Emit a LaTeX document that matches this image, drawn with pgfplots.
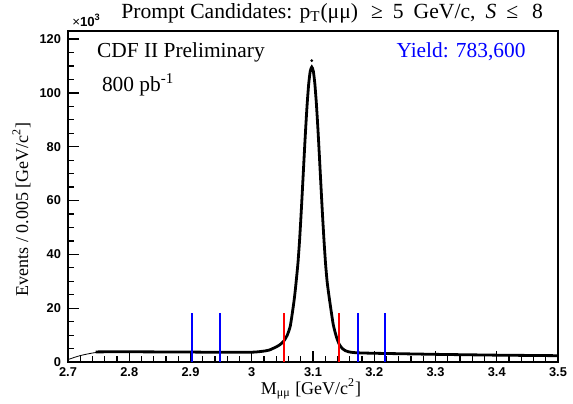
\documentclass[border=0pt]{standalone}
\usepackage{fontspec}
\usepackage{pgfplots}
\pgfplotsset{compat=1.18}
\setmainfont{Liberation Serif}
\newfontfamily\helv{Liberation Sans}

\begin{document}
\begin{tikzpicture}
\begin{axis}[
  scale only axis,
  width=245pt, height=165.5pt,
  xmin=2.7, xmax=3.5, ymin=0, ymax=123,
  clip=false,
  axis line style={line width=0.8pt},
  xtick={2.7,2.8,2.9,3.0,3.1,3.2,3.3,3.4,3.5},
  ytick={0,20,40,60,80,100,120},
  minor x tick num=4, minor y tick num=3,
  tick align=inside, tick pos=left,
  major tick length=5.5pt, minor tick length=3pt,
  tick style={black, line width=0.6pt},
  ticklabel style={font=\helv\bfseries\fontsize{6.4}{7}\selectfont},
  xticklabel style={yshift=1pt},
  /pgf/number format/assume math mode=true,
  scaled ticks=false,
]
% thin extension at the low edge
\addplot[black, line width=0.4pt] coordinates {
  (2.70,0.9) (2.71,1.7) (2.72,2.4) (2.73,2.9) (2.74,3.35) (2.75,3.7)
};
% fitted mass spectrum
\addplot[black, line width=1.4pt, smooth, tension=0.4] coordinates {
  (2.745,3.75) (2.77,3.8) (2.80,3.8) (2.85,3.75) (2.90,3.7) (2.95,3.6)
  (2.98,3.6) (3.00,3.65) (3.008,3.75) (3.018,4.0) (3.028,4.4) (3.038,5.4)
  (3.043,6.0) (3.048,6.8) (3.053,8.0) (3.058,10.0) (3.063,13.5) (3.068,21)
  (3.0705,25.5) (3.073,31) (3.0755,37) (3.078,45) (3.0805,54.7) (3.083,65.3)
  (3.0855,76.2) (3.088,86.7) (3.0905,96.0) (3.093,103.4) (3.0955,108.1)
  (3.098,109.6) (3.1005,108.1) (3.103,103.4) (3.1055,96.0) (3.108,86.7)
  (3.1105,76.2) (3.113,65.3) (3.1155,54.7) (3.118,45.0) (3.1205,36.5)
  (3.123,30) (3.1255,25.5) (3.128,21.5) (3.133,14) (3.138,9.5) (3.143,6.5)
  (3.148,5.0) (3.153,4.2) (3.158,3.8) (3.165,3.55) (3.175,3.4) (3.20,3.25)
  (3.25,3.05) (3.30,2.85) (3.35,2.7) (3.40,2.55) (3.45,2.45) (3.50,2.35)
};
\addplot[only marks, mark=*, mark size=0.5pt, black] coordinates {(3.098,112)};
% signal window and sidebands
\addplot[ycomb, red, line width=0.9pt, no marks] coordinates {(3.053,18.2) (3.143,18.2)};
\addplot[ycomb, blue, line width=0.9pt, no marks] coordinates {(2.903,18.2) (2.948,18.2) (3.173,18.2) (3.218,18.2)};

\node[anchor=base west, font=\fontsize{10.7}{12}\selectfont] at (rel axis cs:0.045,0.921) {CDF II Preliminary};
\node[anchor=base west, font=\fontsize{10.7}{12}\selectfont] at (rel axis cs:0.055,0.817) {800 pb\textsuperscript{-1}};
\node[anchor=base west, font=\fontsize{10.7}{12}\selectfont, text=blue] at (rel axis cs:0.656,0.921) {Yield: 783,600};
\node[anchor=base west, inner sep=0pt, font=\fontsize{10.8}{12}\selectfont] at (rel axis cs:0.108,1.038)
  {Prompt Candidates: p\textsubscript{T}(μμ)\hspace{6.5pt}≥\hspace{5pt}5\hspace{5pt}GeV/c,\hspace{5pt}\textit{S}\hspace{5pt}≤\hspace{7pt}8};
\node[anchor=base west, inner sep=0pt, font=\helv\fontsize{6.6}{7}\selectfont] at (rel axis cs:0.008,1.013) {×\textbf{10\textsuperscript{3}}};
\node[anchor=base, rotate=90, inner sep=0pt, font=\fontsize{9}{10}\selectfont] at (rel axis cs:-0.0816,0.462) {Events / 0.005 [GeV/c\textsuperscript{2}]};
\node[anchor=base, inner sep=0pt, font=\fontsize{9}{10}\selectfont] at (rel axis cs:0.496,-0.098) {M\textsubscript{μμ} [GeV/c\textsuperscript{2}]};

\coordinate (ll) at (rel axis cs:0,0);
\coordinate (ur) at (rel axis cs:1,1);
\end{axis}
\pgfresetboundingbox
\path ([shift={(-34pt,-20.5pt)}]ll) rectangle ([shift={(7.5pt,15.5pt)}]ur);
\end{tikzpicture}
\end{document}
